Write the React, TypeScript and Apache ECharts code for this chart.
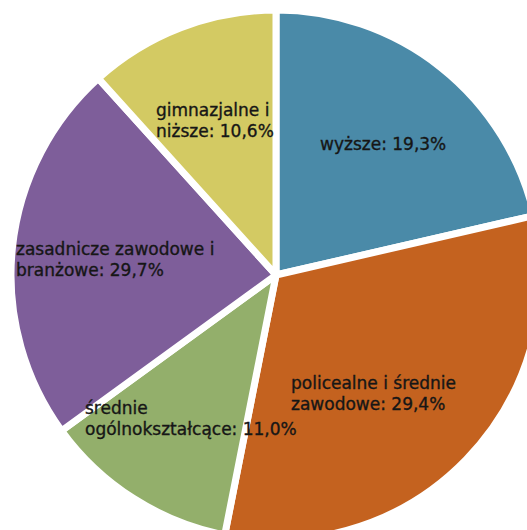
import React, { useEffect, useRef } from "react";
import * as echarts from "echarts";

const categories = [
  "wyższe",
  "policealne i średnie zawodowe",
  "średnie ogólnokształcące",
  "zasadnicze zawodowe i branżowe",
  "gimnazjalne i niższe",
];
// Slice sizes as drawn in the picture (angular shares, %)
const sliceShares = [21.4, 31.7, 11.9, 23.3, 11.7];
// Values printed in the labels (%)
const labelValues = ["19,3", "29,4", "11,0", "29,7", "10,6"];
const labelNames = [
  "wyższe",
  "policealne i średnie\nzawodowe",
  "średnie\nogólnokształcące",
  "zasadnicze zawodowe i\nbranżowe",
  "gimnazjalne i\nniższe",
];
const colors = ["#4A8AA8", "#C4621F", "#93AF6B", "#7E5E9A", "#D3CA63"];
const labelPos = [
  [320, 143.5],
  [291, 393],
  [85, 418.5],
  [16, 259],
  [156, 120.5],
];

export default function App() {
  const ref = useRef<HTMLDivElement>(null);
  useEffect(() => {
    if (!ref.current) return;
    const chart = echarts.init(ref.current, undefined, { renderer: "svg" });
    chart.setOption({
      animation: false,
      backgroundColor: "#ffffff",
      series: [
        {
          type: "pie",
          center: [276, 275],
          radius: 265,
          startAngle: 90,
          clockwise: true,
          data: categories.map((c, i) => ({
            name: c,
            value: sliceShares[i],
            itemStyle: { color: colors[i] },
            label: { formatter: labelNames[i] + ": " + labelValues[i] + "%" },
          })),
          itemStyle: { borderColor: "#ffffff", borderWidth: 7 },
          label: {
            show: true,
            position: "inside",
            color: "#161616",
            fontFamily: "DejaVu Sans",
            fontSize: 17,
            fontWeight: "normal",
            lineHeight: 21,
            align: "left",
            textBorderColor: "#161616",
            textBorderWidth: 0.35,
          },
          labelLine: { show: false },
          labelLayout: (params: any) => {
            const p = labelPos[params.dataIndex];
            return { x: p[0], y: p[1], align: "left", verticalAlign: "middle" };
          },
        },
      ],
    });
    return () => chart.dispose();
  }, []);
  return (
    <div
      ref={ref}
      style={{ width: 527, height: 530, position: "absolute", left: 0, top: 0 }}
    />
  );
}
